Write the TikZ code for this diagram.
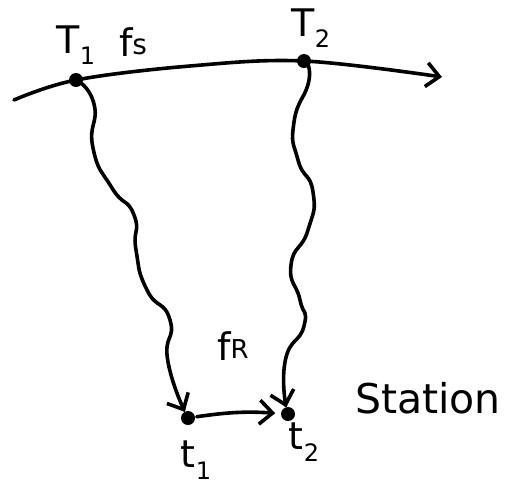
\documentclass[tikz,border=0pt]{standalone}
\usepackage{fontspec}
\setmainfont{DejaVu Sans}
\usetikzlibrary{arrows.meta}
\newcommand{\lsub}[2]{#1\raisebox{-0.3em}{\fontsize{24}{24}\selectfont #2}}

\begin{document}
\begin{tikzpicture}[x=1pt, y=-1pt, >={Straight Barb[length=13pt, width=24pt]},
    line width=3.6pt, line cap=round, line join=round,
    dot/.style={circle, fill, inner sep=0pt, minimum size=14pt},
    lbl/.style={inner sep=0pt, font=\fontsize{38}{40}\selectfont}]
\useasboundingbox (0,0) rectangle (506,488);
% orbit points and station points
\coordinate (orbstart) at (14,100);
\coordinate (orbend) at (442,77);
\node[dot] (T1) at (76,80) {};
\node[dot] (T2) at (304,61) {};
\node[dot] (t1) at (188,418) {};
\node[dot] (t2) at (288,414) {};

\node[lbl] (T1lbl) at (76,45) {\lsub{T}{1}};
\node[lbl] (fS) at (133,42) {f\raisebox{0.05em}{\fontsize{28}{28}\selectfont s}};
\node[lbl] (T2lbl) at (311,28) {\lsub{T}{2}};
\node[lbl] (fR) at (233,346) {f\raisebox{0.05em}{\fontsize{26}{26}\selectfont R}};
\node[lbl, font=\fontsize{41}{44}\selectfont] (station) at (428,398) {Station};
\node[lbl] (t1lbl) at (196,460) {\lsub{t}{1}};
\node[lbl] (t2lbl) at (304,442) {\lsub{t}{2}};

% orbit
\draw[->] plot[smooth, tension=0.6] coordinates {(orbstart) (T1) (190,66) (T2) (orbend)};
% signals
\draw[->, shorten >=7pt] plot[smooth, tension=1] coordinates {(T1) (94,104) (93,148)
    (112,188) (134,215) (136,250) (147,290) (170,320) (168,362) (188,418)};
\draw[->, shorten >=7pt] plot[smooth, tension=1] coordinates {(T2) (309,80) (294,122) (298,160)
    (313,192) (308,230) (291,265) (300,300) (304,326) (285,362) (288,414)};
\draw[->, shorten >=4pt] (t1) to[bend left=6] (t2);
\end{tikzpicture}
\end{document}
